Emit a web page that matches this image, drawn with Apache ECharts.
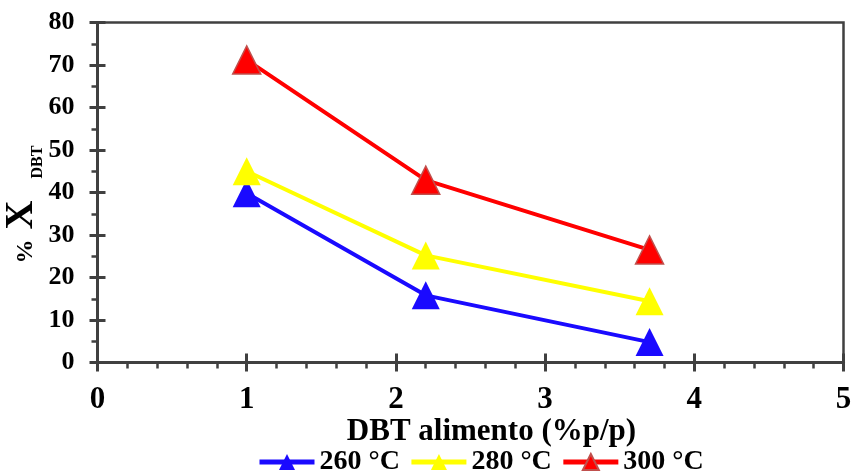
<!DOCTYPE html>
<html>
<head>
<meta charset="utf-8">
<script src="https://cdn.jsdelivr.net/npm/echarts@6/dist/echarts.min.js"></script>
<style>
  html, body { margin: 0; padding: 0; background: #fff; }
  #chart { width: 853px; height: 472px; }
</style>
</head>
<body>
<div id="chart"></div>
<script>
// DBT content in the feed (%p/p)
const feedDBT = [1, 2.2, 3.7];
// DBT conversion (%) at each reaction temperature
const conv260 = [39.8, 15.8, 4.8];
const conv280 = [45.0, 25.2, 14.4];
const conv300 = [71.2, 42.9, 26.5];
const seriesNames = ['260 °C', '280 °C', '300 °C'];
const xTicks = [0, 1, 2, 3, 4, 5];
const yTicks = [0, 10, 20, 30, 40, 50, 60, 70, 80];

const FONT = '"Liberation Serif", "Times New Roman", serif';
const AXIS = '#404040';

const pairs = vals => feedDBT.map((x, i) => [x, vals[i]]);

const chart = echarts.init(document.getElementById('chart'), null, { renderer: 'canvas' });

const baseX = {
  type: 'value',
  min: xTicks[0],
  max: xTicks[xTicks.length - 1],
  interval: 1,
  splitLine: { show: false }
};
const baseY = {
  type: 'value',
  min: yTicks[0],
  max: yTicks[yTicks.length - 1],
  interval: 10,
  splitLine: { show: false }
};

function lineSeries(name, vals, color, border) {
  return {
    name: name,
    type: 'line',
    data: pairs(vals),
    symbol: 'triangle',
    symbolSize: 28,
    lineStyle: { color: color, width: 4 },
    itemStyle: { color: color, borderColor: border || color, borderWidth: border ? 1.5 : 0 },
    emphasis: { disabled: true },
    animation: false,
    z: 3
  };
}

chart.setOption({
  animation: false,
  grid: {
    left: 97.5, right: 9.5, top: 22.5, bottom: 109.5,
    containLabel: false,
    outerBoundsMode: 'none',
    show: true, borderColor: AXIS, borderWidth: 2.5, backgroundColor: 'transparent'
  },
  legend: {
    left: 252, top: 443,
    itemWidth: 55, itemHeight: 20, itemGap: 9,
    lineStyle: { width: 5 },
    textStyle: { fontFamily: FONT, fontWeight: 'bold', fontSize: 28, color: '#000' },
    data: seriesNames
  },
  xAxis: [
    Object.assign({}, baseX, {
      axisLine: { show: true, onZero: false, lineStyle: { color: AXIS, width: 3 } },
      axisTick: { show: true, inside: false, length: 9, lineStyle: { color: AXIS, width: 3 } },
      minorTick: { show: true, splitNumber: 5, length: 6, lineStyle: { color: AXIS, width: 2.5 } },
      axisLabel: {
        margin: 22, fontFamily: FONT, fontWeight: 'bold', fontSize: 31, color: '#000',
        formatter: v => String(v)
      },
      name: 'DBT alimento (%p/p)',
      nameLocation: 'middle',
      nameGap: 54,
      nameMoveOverlap: false,
      nameTextStyle: { fontFamily: FONT, fontWeight: 'bold', fontSize: 31, color: '#000', padding: [0, 0, 0, 42] }
    }),
    Object.assign({}, baseX, {
      gridIndex: 0,
      position: 'bottom',
      axisLine: { show: false },
      axisTick: { show: true, inside: true, length: 9, lineStyle: { color: AXIS, width: 3 } },
      axisLabel: { show: false }
    })
  ],
  yAxis: [
    Object.assign({}, baseY, {
      axisLine: { show: true, onZero: false, lineStyle: { color: AXIS, width: 3 } },
      axisTick: { show: true, inside: false, length: 8, lineStyle: { color: AXIS, width: 3 } },
      minorTick: { show: true, splitNumber: 2, length: 6, lineStyle: { color: AXIS, width: 2.5 } },
      axisLabel: {
        margin: 23, fontFamily: FONT, fontWeight: 'bold', fontSize: 26, color: '#000'
      },
      name: '{p|%}{x|X}{s|DBT}',
      nameLocation: 'middle',
      nameGap: 56,
      nameMoveOverlap: false,
      nameRotate: 90,
      nameTextStyle: {
        fontFamily: FONT, fontWeight: 'bold', color: '#000',
        padding: [0, 24, 0, 0],
        rich: {
          p: { fontFamily: FONT, fontWeight: 'bold', fontSize: 24, color: '#000', verticalAlign: 'bottom', padding: [0, 10, 4, 0] },
          x: { fontFamily: FONT, fontWeight: 'bold', fontSize: 40, color: '#000', verticalAlign: 'bottom' },
          s: { fontFamily: FONT, fontWeight: 'bold', fontSize: 16, color: '#000', verticalAlign: 'bottom', padding: [0, 0, -4, 22] }
        }
      }
    }),
    Object.assign({}, baseY, {
      gridIndex: 0,
      position: 'left',
      axisLine: { show: false },
      axisTick: { show: true, inside: true, length: 8, lineStyle: { color: AXIS, width: 3 } },
      axisLabel: { show: false }
    })
  ],
  series: [
    lineSeries(seriesNames[0], conv260, '#1a0aff'),
    lineSeries(seriesNames[1], conv280, '#ffff00'),
    lineSeries(seriesNames[2], conv300, '#ff0000', '#c0504d')
  ]
});
</script>
</body>
</html>
